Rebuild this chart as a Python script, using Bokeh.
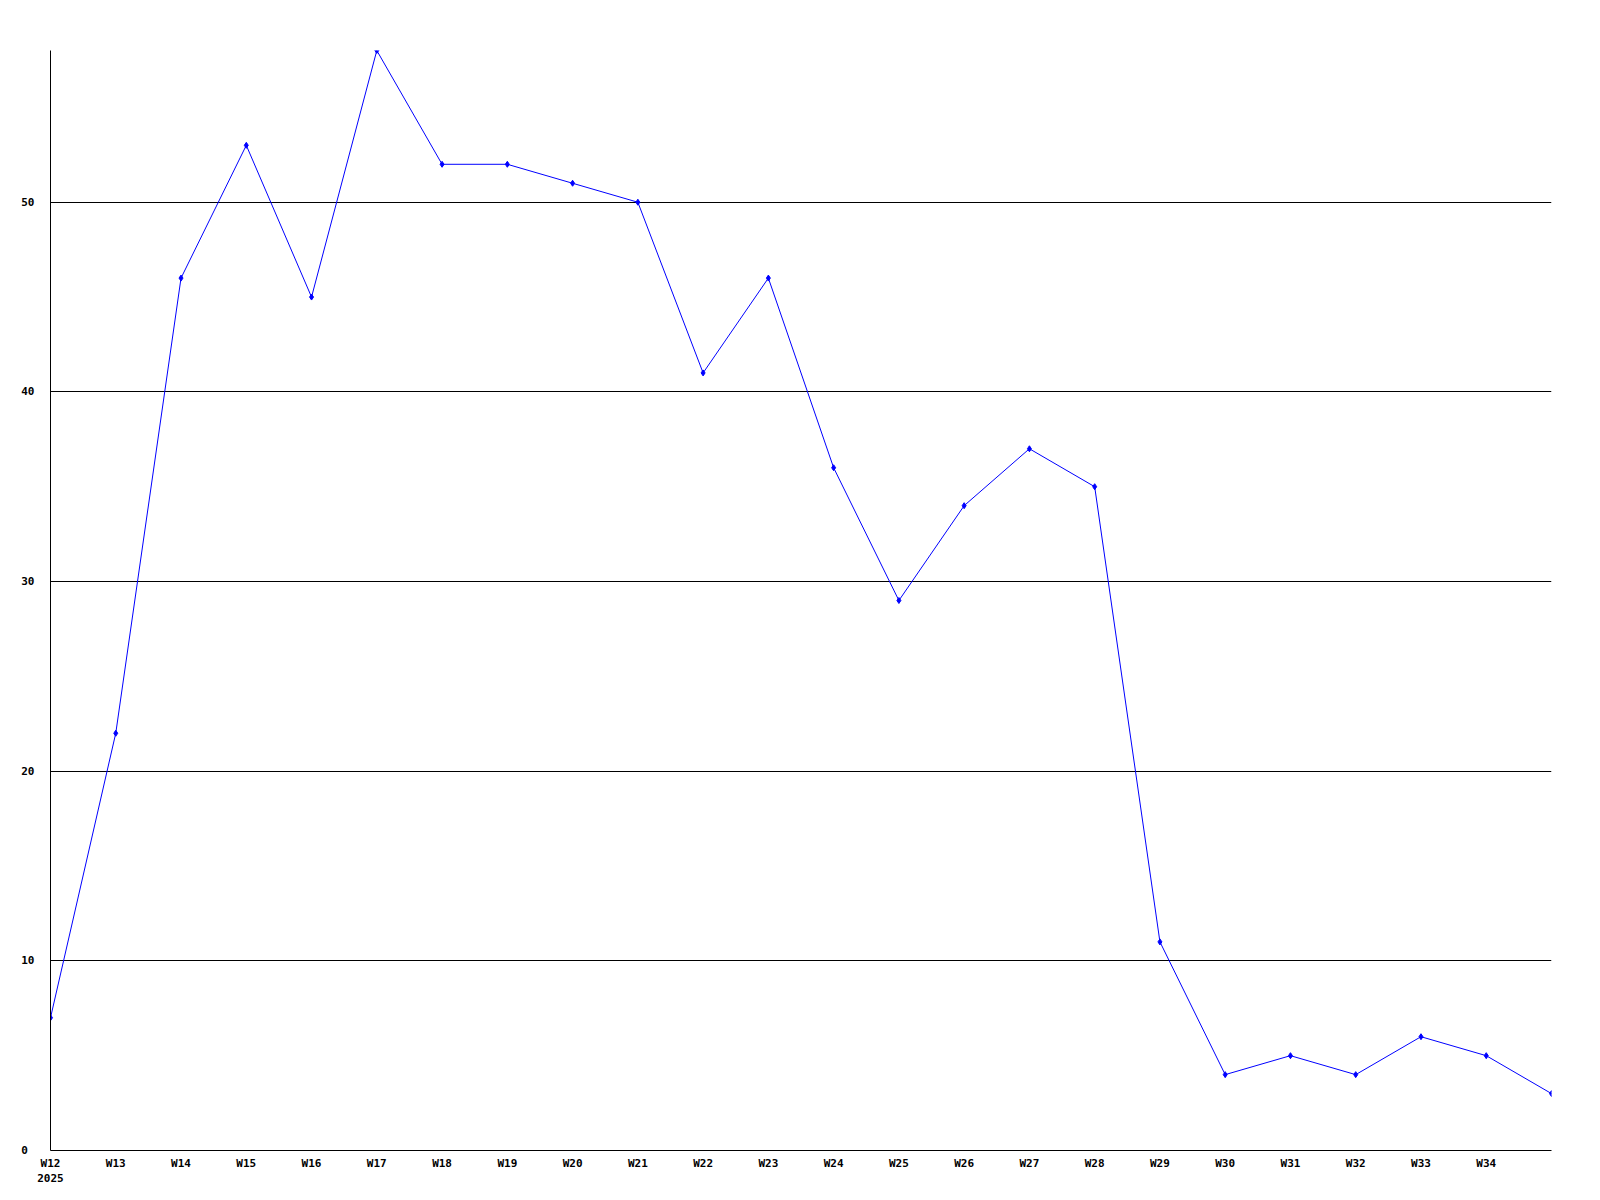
from bokeh.plotting import figure
from bokeh.models import FixedTicker, Range1d
from bokeh.embed import file_html
from bokeh.resources import INLINE

weeks = ["W12", "W13", "W14", "W15", "W16", "W17", "W18", "W19", "W20", "W21", "W22", "W23",
         "W24", "W25", "W26", "W27", "W28", "W29", "W30", "W31", "W32", "W33", "W34", "W35"]
values = [7, 22, 46, 53, 45, 58, 52, 52, 51, 50, 41, 46, 36, 29, 34, 37, 35, 11, 4, 5, 4, 6, 5, 3]
year_label = "2025"
y_ticks = [0, 10, 20, 30, 40, 50]

xs = list(range(len(weeks)))

p = figure(width=1592, height=1192, output_backend="svg", toolbar_location=None,
           x_range=Range1d(0, len(weeks) - 1), y_range=Range1d(0, 58),
           min_border_left=50, min_border_right=41, min_border_top=50, min_border_bottom=42)
p.outline_line_color = None
p.background_fill_color = "white"

p.line(xs, values, line_color="#0000ff", line_width=1)
p.scatter(xs, values, marker="diamond", size=6, fill_color="#0000ff", line_color="#0000ff")

font = "DejaVu Sans Mono"

xa = p.xaxis[0]
xa.ticker = FixedTicker(ticks=xs[:-1])
overrides = {i: w for i, w in enumerate(weeks[:-1])}
overrides[0] = weeks[0] + "\n" + year_label
xa.major_label_overrides = overrides
xa.major_tick_in = 0
xa.major_tick_out = 0
xa.minor_tick_in = 0
xa.minor_tick_out = 0
xa.axis_line_color = "black"
xa.major_label_text_font = font
xa.major_label_text_font_style = "bold"
xa.major_label_text_font_size = "11px"
xa.major_label_text_color = "black"
xa.major_label_standoff = 6

ya = p.yaxis[0]
ya.ticker = FixedTicker(ticks=y_ticks)
ya.major_label_overrides = {0: "0\u2007"}
ya.major_tick_in = 0
ya.major_tick_out = 0
ya.minor_tick_in = 0
ya.minor_tick_out = 0
ya.axis_line_color = "black"
ya.major_label_text_font = font
ya.major_label_text_font_style = "bold"
ya.major_label_text_font_size = "11px"
ya.major_label_text_color = "black"
ya.major_label_standoff = 16

p.xgrid.grid_line_color = None
p.ygrid.ticker = FixedTicker(ticks=y_ticks[1:])
p.ygrid.grid_line_color = "black"
p.ygrid.grid_line_alpha = 1.0
p.ygrid.grid_line_width = 1

open("out.html", "w").write(file_html(p, INLINE))
